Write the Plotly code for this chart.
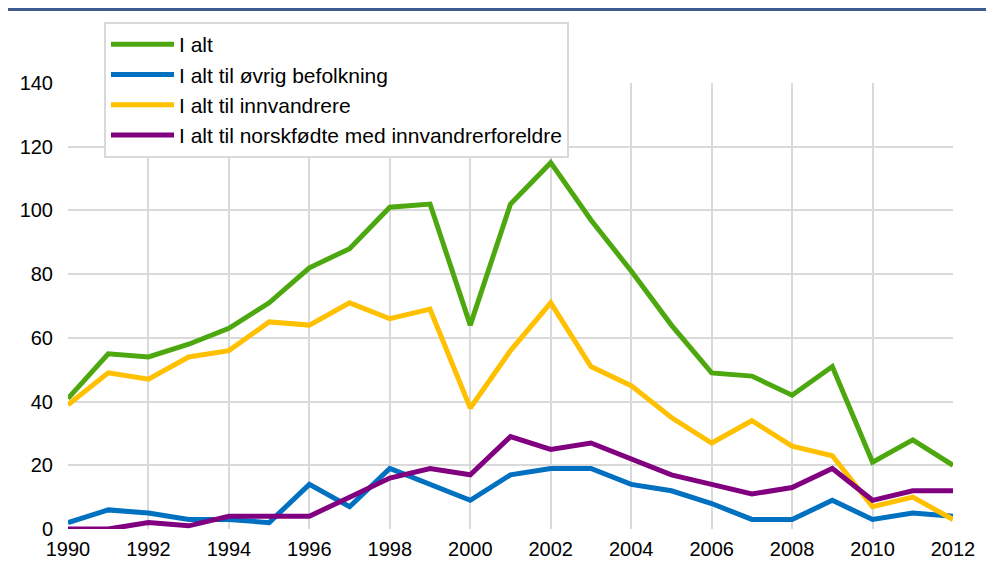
import plotly.graph_objects as go

years = list(range(1990, 2013))
i_alt = [41, 55, 54, 58, 63, 71, 82, 88, 101, 102, 64, 102, 115, 97, 81, 64, 49, 48, 42, 51, 21, 28, 20]
ovrig = [2, 6, 5, 3, 3, 2, 14, 7, 19, 14, 9, 17, 19, 19, 14, 12, 8, 3, 3, 9, 3, 5, 4]
innvandrere = [39, 49, 47, 54, 56, 65, 64, 71, 66, 69, 38, 56, 71, 51, 45, 35, 27, 34, 26, 23, 7, 10, 3]
norskfodte = [0, 0, 2, 1, 4, 4, 4, 10, 16, 19, 17, 29, 25, 27, 22, 17, 14, 11, 13, 19, 9, 12, 12]

series = [
    ("I alt", i_alt, "#4CA80E"),
    ("I alt til øvrig befolkning", ovrig, "#0070C0"),
    ("I alt til innvandrere", innvandrere, "#FFC000"),
    ("I alt til norskfødte med innvandrerforeldre", norskfodte, "#800080"),
]

# page body has an 8px margin; figure is sized to fit the 994x568 window
OFF = 8
W, H = 994 - 2 * OFF, 568 - 2 * OFF
ml, mt = 68 - OFF, 83 - OFF
mr = W - (953 - OFF)
mb = H - (529 - OFF)
pw, ph = W - ml - mr, H - mt - mb

def px_x(x):
    return (x - OFF - ml) / pw

def px_y(y):
    return (H - mb - (y - OFF)) / ph

fig = go.Figure()
for name, vals, col in series:
    fig.add_trace(go.Scatter(x=years, y=vals, name=name, mode="lines",
                             line=dict(color=col, width=5)))

fig.update_layout(
    width=W, height=H,
    margin=dict(l=ml, r=mr, t=mt, b=mb, pad=0),
    paper_bgcolor="white", plot_bgcolor="white",
    font=dict(family="Liberation Sans, Arial, sans-serif", size=20, color="#000000"),
    showlegend=True,
    legend=dict(
        x=px_x(104), y=px_y(22), xanchor="left", yanchor="top",
        bgcolor="white", bordercolor="#D9D9D9", borderwidth=2,
        font=dict(size=21, color="#000000"),
        tracegroupgap=0, itemwidth=63,
    ),
    xaxis=dict(range=[1990, 2012], tick0=1990, dtick=2, showgrid=True,
               gridcolor="#D9D9D9", gridwidth=2, zeroline=False,
               showline=False, ticks="", tickfont=dict(size=20),
               ticklabelstandoff=6, automargin=False),
    yaxis=dict(range=[0, 140], dtick=20, showgrid=True, gridcolor="#D9D9D9",
               gridwidth=2, zeroline=False, showline=False, ticks="",
               tickfont=dict(size=20), ticklabelstandoff=14, automargin=False),
    shapes=[dict(type="line", xref="paper", yref="paper",
                 x0=px_x(0), x1=px_x(994),
                 y0=px_y(9.5), y1=px_y(9.5),
                 line=dict(color="#3F5A8C", width=3))],
)

fig.write_html("out.html")
